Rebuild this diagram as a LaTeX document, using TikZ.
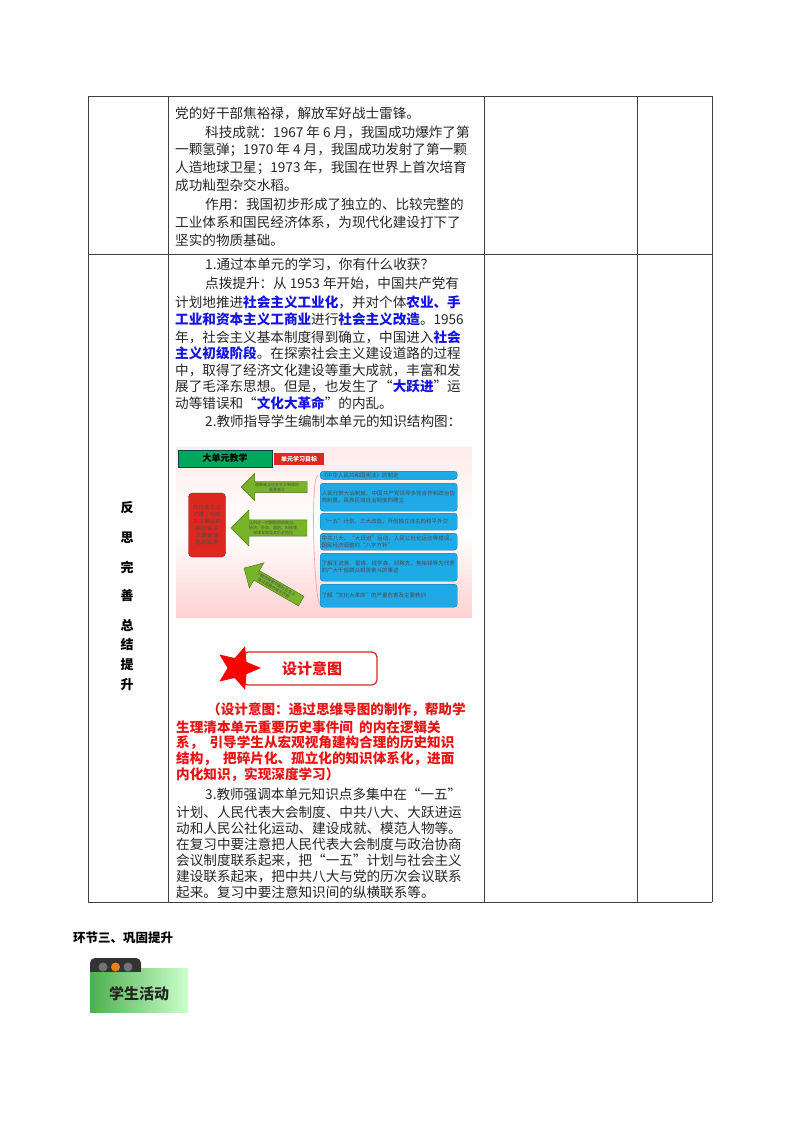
\documentclass[tikz,border=0pt]{standalone}
\usepackage{fontspec}
\setmainfont{Noto Sans CJK SC}
\XeTeXlinebreaklocale "zh"
\XeTeXlinebreakskip=0pt plus 1pt
\usetikzlibrary{shapes.geometric,shapes.arrows}
\definecolor{tblue}{RGB}{20,20,230}
\definecolor{tred}{RGB}{235,20,20}
\definecolor{mblue}{RGB}{30,170,230}
\definecolor{mgreen}{RGB}{120,180,40}
\definecolor{mred}{RGB}{220,40,30}
\begin{document}
\begin{tikzpicture}[x=1pt,y=-1pt,
  tl/.style={anchor=west,inner sep=0pt,font=\fontsize{13.6}{15}\selectfont,text=black!85},
  rl/.style={anchor=west,inner sep=0pt,font=\fontsize{13.6}{15}\selectfont\bfseries,text=tred},
  vl/.style={inner sep=0pt,font=\fontsize{13}{15}\selectfont\bfseries},
  bx/.style={fill=mblue,draw=mblue!70!black,rounded corners=3pt,inner sep=1.5pt,align=left,font=\fontsize{5.5}{7}\selectfont,text=black!70,anchor=north west,text width=134pt},
  arr/.style={fill=mgreen,draw=mgreen!60!black,single arrow,shape border rotate=180,single arrow head extend=8pt,inner sep=1pt,align=center,font=\fontsize{4}{5}\selectfont,text=black!70}]
\useasboundingbox (0,0) rectangle (800,1132);
\fill[white] (0,0) rectangle (800,1132);
% table
\draw[black!75,line width=0.8pt] (88,96) -- (712,96) (88,254) -- (712,254) (88,902) -- (712,902)
  (88,96) -- (88,902) (168,96) -- (168,902) (484,96) -- (484,902) (637,96) -- (637,902) (712,96) -- (712,902);
% row 1 text
\node[tl] (a1) at (175,113) {党的好干部焦裕禄，解放军好战士雷锋。};
\node[tl] (a2) at (205,132) {科技成就：1967 年 6 月，我国成功爆炸了第};
\node[tl] (a3) at (175,150) {一颗氢弹；1970 年 4 月，我国成功发射了第一颗};
\node[tl] (a4) at (175,168) {人造地球卫星；1973 年，我国在世界上首次培育};
\node[tl] (a5) at (175,185) {成功籼型杂交水稻。};
\node[tl] (a6) at (205,204) {作用：我国初步形成了独立的、比较完整的};
\node[tl] (a7) at (175,222) {工业体系和国民经济体系，为现代化建设打下了};
\node[tl] (a8) at (175,240) {坚实的物质基础。};
% row 2 text
\node[tl] (b1) at (205,264) {1.通过本单元的学习，你有什么收获？};
\node[tl] (b2) at (205,283) {点拨提升：从 1953 年开始，中国共产党有};
\node[tl] (b3) at (175,302) {计划地推进\textcolor{tblue}{\bfseries 社会主义工业化}，并对个体\textcolor{tblue}{\bfseries 农业、手}};
\node[tl] (b4) at (175,319) {\textcolor{tblue}{\bfseries 工业和资本主义工商业}进行\textcolor{tblue}{\bfseries 社会主义改造}。1956};
\node[tl] (b5) at (175,337) {年，社会主义基本制度得到确立，中国进入\textcolor{tblue}{\bfseries 社会}};
\node[tl] (b6) at (175,353) {\textcolor{tblue}{\bfseries 主义初级阶段}。在探索社会主义建设道路的过程};
\node[tl] (b7) at (175,370) {中，取得了经济文化建设等重大成就，丰富和发};
\node[tl] (b8) at (175,386) {展了毛泽东思想。但是，也发生了“\textcolor{tblue}{\bfseries 大跃进}”运};
\node[tl] (b9) at (175,403) {动等错误和“\textcolor{tblue}{\bfseries 文化大革命}”的内乱。};
\node[tl] (b10) at (205,421) {2.教师指导学生编制本单元的知识结构图：};
% mind map picture
\shade[top color=red!8,bottom color=red!18,middle color=white] (176,447) rectangle (472,617);
\node[fill=teal!70!green,draw=teal!50!black,minimum width=94pt,minimum height=17pt,inner sep=0pt,font=\fontsize{9}{10}\selectfont\bfseries] (mt) at (225,458.5) {大单元教学};
\node[fill=mred,minimum width=50pt,minimum height=12pt,inner sep=0pt,text=white,font=\fontsize{6}{7}\selectfont\bfseries] (mg) at (299,459) {单元学习目标};
\node[fill=mred,draw=mred!60!black,rounded corners=4pt,minimum width=37pt,minimum height=64pt,inner sep=2pt,align=center,text width=31pt,font=\fontsize{5.5}{7}\selectfont,text=black!70] (mc) at (207,525) {向社会主义过渡，社会主义事业的和社会主义建设道路的探索};
\node[arr,minimum width=18pt,minimum height=66pt] (m1) at (277,487) {理解建立社会主义制度的\\重要意义};
\node[arr,minimum width=30pt,minimum height=76pt,single arrow head extend=10pt] (m2) at (273,528) {认识这一时期取得的政治、\\经济、外交、国防、科技等\\领域发展及其历史地位};
\node[arr,minimum width=22pt,minimum height=66pt,rotate=-30,single arrow head extend=9pt] (m3) at (275,586) {了解党探索中国社会主义\\建设道路的艰辛历程};
\node[bx,minimum height=8pt] (n1) at (320,471) {《中华人民共和国宪法》的制定};
\node[bx,minimum height=28pt] (n2) at (320,483) {人民代表大会制度、中国共产党领导多党合作和政治协商制度、民族区域自治制度的确立};
\node[bx,minimum height=17pt] (n3) at (320,513) {“一五”计划、三大改造、开创独立自主的和平外交};
\node[bx,minimum height=17pt] (n4) at (320,533) {中共八大、“大跃进”运动、人民公社化运动等错误、国民经济调整的“八字方针”};
\node[bx,minimum height=28pt] (n5) at (320,553) {了解王进喜、雷锋、钱学森、邓稼先、焦裕禄等为代表的广大干部群众艰苦奋斗的事迹};
\node[bx,minimum height=23pt] (n6) at (320,584) {了解“文化大革命”的严重危害及主要教训};
\draw[red!40,line width=0.6pt] (n1.west) ++(-2,0) .. controls (310,476) and (314,600) .. (320,604);
% design banner
\node[draw=mred,line width=1.2pt,rounded corners=5pt,minimum width=134pt,minimum height=33pt,inner sep=0pt,font=\fontsize{15}{16}\selectfont\bfseries,text=tred] (ban) at (310,668.5) {\hspace{4pt}设计意图};
\node[star,star points=5,star point ratio=2.2,fill=red,rotate=-18,minimum size=46pt,inner sep=0pt] (st) at (238,668) {};
% red text
\node[rl] (r1) at (207,710) {（设计意图：通过思维导图的制作，帮助学};
\node[rl] (r2) at (176,727) {生理清本单元重要历史事件间\ \ 的内在逻辑关};
\node[rl] (r3) at (176,743) {系，\ \ 引导学生从宏观视角建构合理的历史知识};
\node[rl] (r4) at (176,759) {结构，\ \ 把碎片化、孤立化的知识体系化，进面};
\node[rl] (r5) at (176,775) {内化知识，实现深度学习）};
\node[tl] (c1) at (205,794) {3.教师强调本单元知识点多集中在“一五”};
\node[tl] (c2) at (176,812) {计划、人民代表大会制度、中共八大、大跃进运};
\node[tl] (c3) at (176,828) {动和人民公社化运动、建设成就、模范人物等。};
\node[tl] (c4) at (176,844) {在复习中要注意把人民代表大会制度与政治协商};
\node[tl] (c5) at (176,860) {会议制度联系起来，把“一五”计划与社会主义};
\node[tl] (c6) at (176,876) {建设联系起来，把中共八大与党的历次会议联系};
\node[tl] (c7) at (176,892) {起来。复习中要注意知识间的纵横联系等。};
% left column
\node[vl] (v1) at (127,508) {反};
\node[vl] (v2) at (127,538) {思};
\node[vl] (v3) at (127,567) {完};
\node[vl] (v4) at (127,596) {善};
\node[vl] (v5) at (127,625) {总};
\node[vl] (v6) at (127,645) {结};
\node[vl] (v7) at (127,665) {提};
\node[vl] (v8) at (127,685) {升};
% bottom
\node[anchor=west,inner sep=0pt,font=\fontsize{12.5}{14}\selectfont\bfseries] (h3) at (73,938) {环节三、巩固提升};
\fill[black!80,rounded corners=5pt] (90,958) rectangle (141,978);
\shade[left color=green!55!black!70,right color=green!20] (90,968) rectangle (188,1012);
\fill[black!80] (90,968) rectangle (141,972);
\fill[black!55] (103,967) circle (4.5pt);
\fill[orange!70!brown] (115.5,967) circle (4.5pt);
\fill[black!55] (128,967) circle (4.5pt);
\node[inner sep=0pt,font=\fontsize{15}{16}\selectfont\bfseries,text=black!85] (act) at (139,994) {学生活动};
\end{tikzpicture}
\end{document}
